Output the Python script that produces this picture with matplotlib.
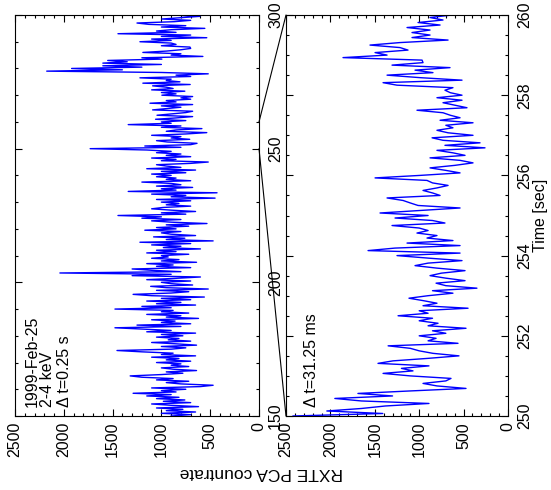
import numpy as np
import matplotlib.pyplot as plt
from matplotlib.patches import ConnectionPatch
from matplotlib.ticker import MultipleLocator

plt.rcParams['font.family'] = ['Liberation Sans', 'DejaVu Sans']
plt.rcParams['font.size'] = 11.5

# 2-4 keV light curve, 0.5 s steps from 150 s
dt_slow = 0.5
rate_slow = [
    900, 700, 1000, 650, 950, 780, 1050, 620, 900, 1100, 700, 980, 760, 1050, 820, 1150, 900, 1290, 850, 1000,
    750, 1100, 600, 470, 800, 950, 720, 1050, 880, 1200, 1320, 1000, 780, 950, 640, 880, 1000, 720, 900, 800,
    1050, 700, 950, 820, 1100, 650, 1000, 880, 1200, 1455, 900, 750, 1000, 640, 850, 1100, 700, 930, 820, 1050,
    780, 1000, 650, 1150, 900, 1200, 1476, 800, 1250, 700, 1000, 860, 1100, 620, 950, 800, 1150, 720, 1000, 880,
    1476, 900, 1200, 650, 1050, 800, 1150, 700, 1000, 560, 1100, 1290, 900, 720, 1050, 520, 950, 1110, 680, 900,
    1000, 700, 1150, 850, 600, 1300, 900, 2040, 800, 1100, 1300, 700, 1050, 880, 1150, 640, 1000, 820, 1100, 930,
    1000, 720, 1150, 850, 1050, 600, 980, 800, 1100, 700, 1220, 470, 950, 760, 1080, 650, 900, 1000, 800, 1170,
    850, 1050, 720, 950, 533, 900, 1100, 800, 1200, 1000, 1445, 750, 1000, 650, 900, 1100, 985, 700, 950, 820,
    1000, 700, 1050, 450, 900, 750, 1100, 430, 1340, 850, 1000, 680, 1050, 800, 900, 1200, 700, 950, 850, 1050,
    900, 1100, 750, 1000, 650, 1150, 800, 950, 1050, 700, 520, 1000, 850, 1100, 700, 950, 800, 1050, 900, 1150,
    1730, 800, 1170, 700, 635, 940, 1050, 710, 900, 800, 1100, 750, 535, 950, 850, 585, 1000, 800, 1340, 900,
    1000, 750, 1060, 850, 680, 1045, 900, 750, 680, 1090, 950, 800, 1000, 680, 1117, 850, 950, 700, 800, 680,
    995, 850, 1000, 760, 1100, 880, 950, 1090, 705, 1190, 810, 950, 900, 1220, 700, 850, 520, 1000, 2175, 1400,
    1920, 1200, 1600, 1000, 1600, 1350, 1550, 995, 1200, 575, 900, 800, 1190, 950, 800, 700, 707, 1000, 850, 900,
    1220, 900, 1100, 535, 1000, 700, 1445, 850, 1050, 900, 555, 1000, 750, 1130, 1250, 870, 700, 995, 800, 605,
    900,
]

# zoom on 250-260 s, 0.0625 s steps
dt_fast = 0.0625
rate_fast = [
    2420, 1410, 2040, 1650, 1380, 890, 1650, 1950, 1300, 1690, 1100, 473, 800, 957, 700, 642,
    1100, 1407, 1070, 1200, 890, 1464, 1295, 900, 552, 845, 1000, 1100, 1350, 563, 900, 810,
    1000, 700, 850, 473, 900, 788, 1000, 850, 1238, 900, 1000, 450, 957, 800, 950, 1115,
    900, 620, 850, 350, 700, 810, 484, 700, 878, 750, 484, 800, 1047, 900, 518, 900,
    1250, 540, 1576, 1272, 540, 1137, 620, 912, 800, 1025, 900, 1000, 1306, 710, 850, 1272,
    900, 1441, 1000, 540, 1013, 1100, 1182, 1362, 765, 850, 957, 800, 675, 850, 912, 1497,
    990, 540, 700, 878, 600, 394, 540, 878, 484, 620, 800, 259, 710, 315, 732, 855,
    394, 675, 800, 620, 700, 394, 765, 540, 650, 732, 1025, 462, 600, 732, 518, 800,
    518, 650, 710, 620, 1250, 1407, 518, 990, 1362, 845, 1047, 653, 1306, 957, 968, 1858,
    1362, 1497, 1126, 1216, 1554, 1216, 675, 1081, 878, 1081, 878, 1137, 765, 1013, 732, 878,
    630,
]

t_slow = 150 + dt_slow * np.arange(len(rate_slow))
t_fast = 250 + dt_fast * np.arange(len(rate_fast))

fig = plt.figure(figsize=(5.51, 4.9), dpi=100)
ax1 = fig.add_axes([15/551, 74/490, 244/551, 401/490])
ax2 = fig.add_axes([286/551, 74/490, 222/551, 401/490])

ax1.plot(rate_slow, t_slow, color='#0000ff', lw=1.0)
ax2.plot(rate_fast, t_fast, color='#0000ff', lw=1.0)

ax1.set_ylim(150, 300)
ax1.yaxis.set_major_locator(MultipleLocator(50))
ax1.yaxis.set_minor_locator(MultipleLocator(10))
ax2.set_ylim(250, 260)
ax2.yaxis.set_major_locator(MultipleLocator(2))
ax2.yaxis.set_minor_locator(MultipleLocator(0.5))

for ax, ypad in ((ax1, 6.5), (ax2, 7)):
    ax.set_xlim(2500, 0)
    ax.xaxis.set_major_locator(MultipleLocator(500))
    ax.xaxis.set_minor_locator(MultipleLocator(100))
    ax.tick_params(which='both', direction='in', top=True, bottom=True, left=True, right=True,
                   labelleft=False, labelright=True, width=0.8)
    ax.tick_params(which='major', length=5)
    ax.tick_params(which='minor', length=2.5)
    ax.tick_params(axis='x', labelrotation=90, pad=4.3)
    ax.tick_params(axis='y', labelrotation=90, pad=ypad)
    plt.setp(ax.get_yticklabels(), va='center')
    for s in ax.spines.values():
        s.set_linewidth(0.8)

ax1.text(0.072, 0.022, '1999-Feb-25', transform=ax1.transAxes, rotation=90, ha='center', va='bottom')
ax1.text(0.133, 0.022, '2-4 keV', transform=ax1.transAxes, rotation=90, ha='center', va='bottom')
ax1.text(0.203, 0.022, '\u0394 t=0.25 s', transform=ax1.transAxes, rotation=90, ha='center', va='bottom')
ax2.text(0.113, 0.022, '\u0394 t=31.25 ms', transform=ax2.transAxes, rotation=90, ha='center', va='bottom')

# zoom connectors
for tt in (260, 250):
    con = ConnectionPatch(xyA=(0, tt), coordsA=ax1.transData, xyB=(2500, tt), coordsB=ax2.transData,
                          color='black', lw=0.8)
    fig.add_artist(con)

fig.text(540/551, 1 - 215/490, 'Time [sec]', rotation=90, ha='center', va='center')
fig.text(261/551, 1 - 472/490, 'RXTE PCA countrate', rotation=180, ha='center', va='center', fontsize=12.5)

fig.savefig('out.png', dpi=100)
